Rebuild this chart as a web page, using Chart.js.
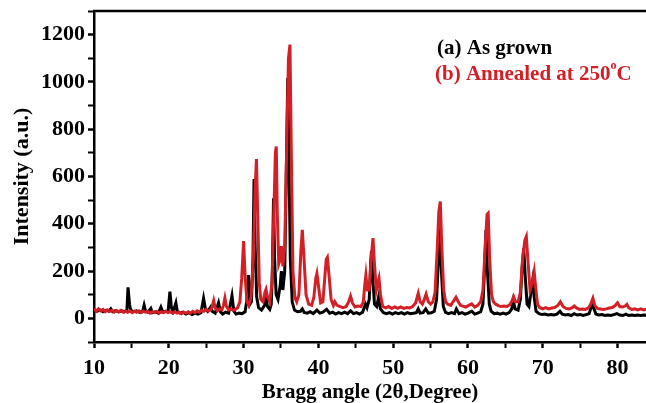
<!DOCTYPE html>
<html>
<head>
<meta charset="utf-8">
<script src="https://cdn.jsdelivr.net/npm/chart.js@4.4.1/dist/chart.umd.min.js"></script>
<style>
  html, body { margin: 0; padding: 0; background: #ffffff; }
  #wrap { width: 646px; height: 403px; position: relative; }
</style>
</head>
<body>
<div id="wrap"><canvas id="c" width="646" height="403"></canvas></div>
<script>
// ---- data ----
const asGrownX = [10.0,10.4,10.8,11.2,11.6,12.0,12.25,12.5,12.9,13.3,13.7,14.1,14.4,14.55,14.75,14.9,15.3,15.7,16.1,16.5,16.7,16.9,17.2,17.6,17.8,18.2,18.6,18.95,19.2,19.6,19.9,20.15,20.35,20.6,20.95,21.15,21.5,21.9,22.3,22.7,23.1,23.5,23.9,24.3,24.65,24.9,25.2,25.6,25.8,26.2,26.65,26.9,27.2,27.6,28.0,28.45,28.7,29.0,29.4,29.8,30.2,30.45,30.65,30.85,31.05,31.25,31.4,31.55,31.75,32.0,32.4,32.8,33.0,33.2,33.5,33.7,33.85,34.0,34.15,34.35,34.6,34.9,35.05,35.25,35.5,35.7,35.9,36.05,36.25,36.5,36.8,37.2,37.6,37.85,38.1,38.5,38.9,39.3,39.8,40.2,40.6,41.1,41.5,41.9,42.3,42.7,43.1,43.5,43.9,44.3,44.7,45.1,45.5,45.9,46.3,46.5,46.8,47.0,47.1,47.25,47.5,47.8,48.05,48.3,48.7,49.1,49.5,49.9,50.3,50.7,51.1,51.5,51.9,52.3,52.7,53.1,53.35,53.6,54.0,54.35,54.7,55.1,55.5,55.8,56.05,56.25,56.45,56.7,57.0,57.4,57.8,58.2,58.45,58.8,59.2,59.6,60.0,60.5,60.9,61.3,61.7,62.0,62.2,62.4,62.6,62.85,63.1,63.5,63.9,64.3,64.7,65.1,65.5,65.85,66.05,66.3,66.7,67.0,67.25,67.45,67.65,67.9,68.15,68.45,68.65,68.85,69.1,69.5,69.9,70.3,70.7,71.1,71.5,71.9,72.3,72.6,73.0,73.4,73.8,74.2,74.6,75.0,75.4,75.8,76.2,76.6,76.85,77.1,77.5,77.9,78.3,78.7,79.1,79.5,79.9,80.3,80.7,81.1,81.5,81.9,82.3,82.7,83.1,83.5,84.0];
const asGrownY = [38,30,36,28,34,30,40,28,33,27,32,28,35,131,60,35,28,32,25,30,56,30,26,42,24,28,22,48,26,30,28,113,45,30,66,28,22,26,18,24,16,22,18,24,85,40,30,48,30,22,66,28,18,26,22,96,30,18,22,20,28,80,183,60,70,250,589,300,90,45,35,55,85,50,38,60,200,508,250,100,80,140,200,120,200,600,1017,700,250,70,35,28,30,40,25,22,28,20,35,22,26,38,22,26,18,24,20,26,20,32,20,24,18,26,60,45,80,240,285,180,60,50,90,40,24,20,24,18,24,20,24,18,24,20,22,24,40,22,24,40,22,24,30,80,250,388,200,50,25,20,24,20,40,20,24,18,22,30,18,22,28,60,200,374,200,60,30,20,22,18,22,18,24,40,75,40,35,80,220,296,180,60,50,120,162,90,30,20,16,18,14,16,14,18,30,18,14,16,12,20,14,16,12,16,20,60,40,18,14,16,12,14,12,16,20,14,12,18,12,14,12,14,12,14,12];

const annealedX = [10.0,10.3,10.6,10.9,11.2,11.5,11.8,12.1,12.4,12.7,13.0,13.3,13.6,13.9,14.2,14.5,14.8,15.1,15.4,15.7,16.0,16.3,16.6,16.9,17.2,17.5,17.8,18.1,18.4,18.7,19.0,19.3,19.6,19.9,20.2,20.5,20.8,21.1,21.4,21.7,22.0,22.3,22.6,22.9,23.2,23.5,23.8,24.1,24.4,24.7,25.0,25.3,25.6,25.8,26.0,26.2,26.5,26.8,27.1,27.3,27.5,27.7,28.0,28.3,28.6,28.9,29.2,29.5,29.75,30.0,30.2,30.45,30.7,31.0,31.3,31.55,31.72,31.9,32.1,32.3,32.6,32.85,33.0,33.2,33.5,33.8,34.05,34.25,34.37,34.5,34.7,34.9,35.05,35.25,35.5,35.75,36.0,36.2,36.4,36.6,36.85,37.1,37.4,37.65,37.85,38.05,38.35,38.7,39.1,39.4,39.65,39.8,40.0,40.3,40.6,40.85,41.05,41.2,41.4,41.7,42.0,42.2,42.5,42.9,43.3,43.7,44.05,44.3,44.55,44.9,45.3,45.7,46.0,46.2,46.35,46.55,46.8,47.05,47.3,47.5,47.75,47.95,48.1,48.3,48.6,49.0,49.4,49.8,50.2,50.6,51.0,51.4,51.8,52.2,52.6,53.0,53.35,53.6,53.9,54.1,54.4,54.7,55.0,55.3,55.6,55.9,56.1,56.3,56.5,56.75,57.0,57.3,57.7,58.0,58.4,58.7,59.0,59.3,59.7,60.1,60.5,60.9,61.3,61.7,62.0,62.3,62.55,62.7,62.9,63.15,63.4,63.7,64.0,64.4,64.8,65.2,65.6,65.9,66.1,66.35,66.7,67.0,67.3,67.6,67.8,68.0,68.3,68.6,68.85,69.05,69.3,69.6,70.0,70.4,70.8,71.2,71.6,72.0,72.35,72.7,73.1,73.5,73.9,74.2,74.5,74.9,75.3,75.7,76.1,76.4,76.7,76.95,77.3,77.7,78.1,78.5,78.9,79.3,79.7,80.0,80.3,80.7,81.0,81.25,81.5,81.9,82.3,82.7,83.1,83.5,84.0];
const annealedY = [42,30,40,32,38,28,36,30,34,26,32,28,34,26,30,26,32,24,30,26,32,24,30,26,30,22,28,24,30,22,28,24,30,24,28,22,28,22,26,20,26,22,28,22,30,24,32,26,34,30,38,30,36,50,75,45,32,40,36,55,86,50,36,40,34,38,45,70,170,327,180,70,55,90,250,550,674,420,150,80,70,110,123,90,70,150,450,700,727,450,230,250,306,220,300,700,1100,1158,650,200,90,70,100,280,374,270,100,60,55,90,170,190,140,65,70,170,250,258,190,80,55,70,55,50,45,50,70,94,65,48,52,50,70,140,183,120,120,250,339,230,120,150,169,100,50,44,50,42,48,42,48,42,46,44,50,65,106,70,60,75,103,70,60,70,110,300,450,494,300,120,70,60,55,70,89,70,55,52,48,55,61,48,55,70,120,300,440,445,250,100,70,60,55,50,52,50,58,75,92,70,70,110,250,330,346,250,120,150,197,130,60,45,40,45,40,44,46,55,70,50,42,40,44,52,44,38,40,38,44,60,85,55,42,40,38,40,44,46,55,66,50,48,52,59,44,38,40,36,40,36,40];

const seriesNames = ['(a) As grown', '(b) Annealed at 250'];
const xTickStep = 5;
const yTickStep = 100;

function pairs(xs, ys) { return xs.map((x, i) => ({ x: x, y: ys[i] })); }

const FONT = "'Liberation Serif', 'DejaVu Serif', serif";
const RED = '#d31f26';

const frameAndLegend = {
  id: 'frameAndLegend',
  afterDraw(chart) {
    const { ctx, chartArea } = chart;
    ctx.save();
    ctx.strokeStyle = '#000';
    ctx.lineWidth = 2.5;
    ctx.beginPath();
    ctx.moveTo(chartArea.left - 1, chartArea.top);
    ctx.lineTo(chartArea.right + 2, chartArea.top);
    ctx.stroke();
    ctx.textBaseline = 'alphabetic';
    ctx.textAlign = 'left';
    ctx.font = "bold 21px " + FONT;
    ctx.fillStyle = '#000';
    ctx.fillText(seriesNames[0], 437, 54);
    ctx.fillStyle = RED;
    let x = 435;
    ctx.fillText(seriesNames[1], x, 80);
    x += ctx.measureText(seriesNames[1]).width;
    ctx.font = "bold 12px " + FONT;
    ctx.fillText('o', x, 69);
    x += ctx.measureText('o').width;
    ctx.font = "bold 21px " + FONT;
    ctx.fillText('C', x, 80);
    ctx.restore();
  }
};

new Chart(document.getElementById('c'), {
  type: 'line',
  data: {
    datasets: [
      {
        label: '(b) Annealed at 250°C',
        data: pairs(annealedX, annealedY),
        borderColor: RED,
        borderWidth: 3,
        pointRadius: 0,
        tension: 0,
        order: 0
      },
      {
        label: '(a) As grown',
        data: pairs(asGrownX, asGrownY),
        borderColor: '#000000',
        borderWidth: 3,
        pointRadius: 0,
        tension: 0,
        order: 1
      }
    ]
  },
  options: {
    responsive: false,
    animation: false,
    devicePixelRatio: 1,
    layout: { padding: { top: 11, right: 0, bottom: 0, left: 0 } },
    plugins: { legend: { display: false }, tooltip: { enabled: false } },
    scales: {
      x: {
        type: 'linear',
        min: 10,
        max: 83.8,
        afterFit(scale) { scale.height = 61; scale.paddingLeft = 0; scale.paddingRight = 0; },
        border: { display: true, color: '#000', width: 2.5 },
        grid: {
          display: true, drawOnChartArea: false, drawTicks: true,
          tickLength: 6, tickColor: '#000',
          tickWidth: (c) => (c.tick && c.tick.value % 10 === 0 ? 2.5 : 2)
        },
        ticks: {
          stepSize: xTickStep,
          includeBounds: false,
          autoSkip: false,
          maxRotation: 0,
          padding: 7,
          color: '#000',
          font: { family: FONT, size: 22, weight: 'bold' },
          callback: (v) => (v % 10 === 0 ? String(v) : '')
        },
        title: {
          display: true,
          text: 'Bragg angle (2θ,Degree)',
          color: '#000',
          font: { family: FONT, size: 21, weight: 'bold' },
          padding: { top: 0, bottom: -2 }
        }
      },
      y: {
        type: 'linear',
        min: -100,
        max: 1300,
        afterFit(scale) { scale.width = 94; scale.paddingTop = 0; scale.paddingBottom = 0; },
        border: { display: true, color: '#000', width: 2.5 },
        grid: {
          display: true, drawOnChartArea: false, drawTicks: true,
          tickLength: 6, tickColor: '#000',
          tickWidth: (c) => (c.tick && c.tick.value % 200 === 0 ? 2.5 : 2)
        },
        ticks: {
          stepSize: yTickStep,
          includeBounds: false,
          autoSkip: false,
          padding: 3,
          color: '#000',
          font: { family: FONT, size: 22, weight: 'bold' },
          callback: (v) => (v % 200 === 0 && v >= 0 ? String(v) : '')
        },
        title: {
          display: true,
          text: 'Intensity (a.u.)',
          color: '#000',
          font: { family: FONT, size: 22, weight: 'bold' },
          padding: { top: 9, bottom: 0 }
        }
      }
    }
  },
  plugins: [frameAndLegend]
});
</script>
</body>
</html>
